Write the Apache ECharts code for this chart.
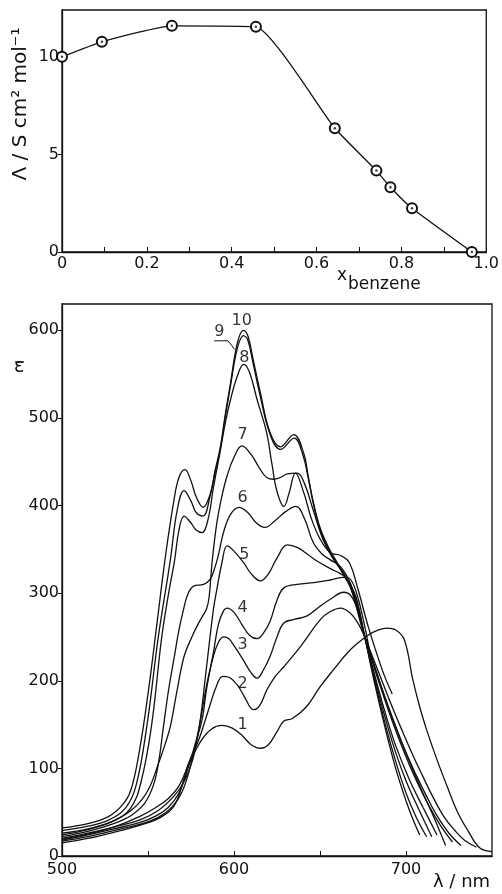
<!DOCTYPE html>
<html>
<head>
<meta charset="utf-8">
<script src="https://cdn.jsdelivr.net/npm/echarts@6/dist/echarts.min.js"></script>
<style>
  html, body { margin: 0; padding: 0; background: #fff; }
  #main { width: 502px; height: 894px; }
</style>
</head>
<body>
<div id="main"></div>
<script>
// 上图：电导率 vs 苯摩尔分数
const xBenzene = [0, 0.094, 0.259, 0.457, 0.643, 0.741, 0.774, 0.825, 0.966];
const conductivity = [10.0, 10.77, 11.59, 11.54, 6.34, 4.17, 3.32, 2.24, 0];

// 下图：吸收光谱 1-10
const wl1 = [500, 515, 530, 545, 555, 562, 568, 574, 581, 587, 593, 599, 605, 610, 615.3, 620, 625, 629, 634, 642, 650, 658, 666, 672, 678, 684, 689, 694, 699, 704, 708, 712, 718, 724, 730, 736, 743, 750];
const eps1 = [19, 25, 33, 45, 56, 66, 80, 106, 132, 145, 149, 146, 137, 127, 123, 127, 142, 154, 157, 170, 193, 213, 232, 243, 252, 258, 260, 258, 247, 201, 170, 144, 110, 79, 50, 29, 9, 5];

const wl2 = [500, 515, 530, 545, 558, 566, 573.6, 579.4, 585.2, 590, 593.5, 597, 602, 606, 611.4, 615, 619.2, 624, 629, 638.6, 650.3, 656, 662, 667.7, 672, 676, 681, 686, 692, 698, 704, 710, 716, 722, 728, 734, 741];
const eps2 = [15, 20, 27, 35, 45, 60, 106, 132, 167, 195, 205, 204, 195, 182, 167, 172, 190, 205, 216, 239, 270, 279, 283, 277, 266, 250, 225, 200, 170, 142, 115, 90, 66, 45, 30, 18, 10];

const wl3 = [500, 515, 530, 545, 556, 564, 570, 575, 580, 584.3, 588, 591, 594, 597, 600, 605, 610, 613.4, 617, 621, 625, 629, 635, 642.5, 650, 656, 663.8, 668, 672, 676, 682, 688, 694, 700, 706, 712, 718, 725, 732];
const eps3 = [17, 22, 29, 36, 44, 56, 74, 105, 150, 197, 228, 244, 250, 248, 240, 225, 209, 203, 212, 228, 250, 266, 270, 274, 285, 293, 301, 297, 280, 252, 215, 180, 148, 118, 92, 68, 46, 26, 12];

const wl4 = [500, 515, 530, 545, 555, 562, 568, 573.6, 577, 581.4, 584, 588, 591, 594, 596, 600, 605, 609, 613.4, 617, 621, 625, 629, 636.7, 646.4, 656, 664, 668, 672, 676, 680, 684, 690, 696, 702, 708, 714, 720, 727];
const eps4 = [18, 24, 31, 38, 46, 56, 72, 102, 125, 155, 190, 232, 265, 280, 283, 278, 263, 252, 248, 254, 268, 292, 306, 310, 312, 315, 318, 315, 295, 262, 225, 200, 165, 133, 104, 78, 55, 35, 16];

const wl5 = [500, 515, 530, 545, 556, 565, 571, 576, 580, 584, 588, 590, 593, 596, 600, 605.5, 610, 615.3, 620, 625, 631, 637, 643, 648, 656, 662, 666, 670, 674, 678, 684, 690, 696, 702, 708, 716, 723];
const eps5 = [20, 26, 33, 41, 52, 68, 85, 110, 150, 215, 281, 304, 335, 354, 348, 335, 322, 314, 322, 340, 355, 352, 344, 337, 328, 322, 315, 292, 263, 238, 203, 168, 137, 108, 80, 45, 12];

const wl6 = [500, 515, 530, 540, 548, 553, 556, 559, 562, 565, 568, 570.6, 573, 576.5, 582.3, 586.2, 589, 591, 594, 598, 603, 608, 613, 618, 624, 630, 636, 641, 646, 651, 656, 662, 668, 672, 676, 682, 688, 694, 702, 710, 718];
const eps6 = [22, 28, 37, 46, 60, 80, 105, 148, 190, 224, 258, 281, 298, 308, 310, 316, 330, 344, 370, 390, 398, 392, 380, 375, 383, 393, 399, 385, 358, 345, 338, 330, 310, 282, 250, 205, 163, 126, 87, 55, 24];

const wl7 = [500, 515, 530, 542, 550, 556, 560, 563, 567, 571, 575.5, 580, 584, 585.5, 587.2, 590, 593, 596, 600, 604.6, 610, 615, 619, 623, 627, 631, 636.7, 641, 646, 652, 658, 664, 670, 676, 682, 688, 694, 700, 707, 715];
const eps7 = [24, 30, 40, 55, 75, 105, 128, 148, 190, 228, 250, 268, 282, 295, 334, 380, 411, 434, 455, 468, 458, 442, 432, 430, 432, 436, 437, 425, 395, 360, 338, 322, 295, 250, 202, 157, 118, 86, 55, 22];

const wl8 = [500, 515, 530, 540, 546, 552, 558, 562, 565.5, 568, 571, 575, 578, 581.5, 585, 588, 592, 595, 598, 602, 605.6, 609, 613.4, 619, 622, 625, 629, 632, 635.7, 640.5, 645, 650, 656, 662, 667, 672, 678, 684, 688, 692];
const eps8 = [26, 31, 40, 55, 85, 148, 250, 300, 338, 372, 388, 380, 372, 369, 385, 420, 462, 495, 521, 548, 561, 552, 521, 483, 448, 416, 399, 414, 437, 415, 385, 362, 346, 343, 335, 305, 262, 225, 203, 185];

const wl9 = [500, 515, 527, 537, 543, 549.3, 556, 563, 567, 571, 575, 578, 582, 586, 589, 592, 595, 598, 602, 605.5, 608, 611, 615, 621, 627, 635, 640, 643, 646, 650, 655, 660, 666, 671, 676, 682, 688, 694, 700, 706, 712];
const eps9 = [29, 34, 41, 55, 80, 148, 250, 338, 395, 417, 405, 392, 388, 410, 437, 464, 502, 537, 580, 594, 589, 563, 527, 481, 464, 477, 458, 433, 403, 373, 350, 333, 313, 293, 250, 198, 150, 108, 72, 44, 22];

const wl10 = [500, 515, 527, 535, 540, 545, 550, 555, 560, 565, 568, 571.5, 575, 578, 582, 586, 589, 592, 595, 598, 602, 605.5, 608, 611, 615.3, 621, 627, 634.7, 640.5, 643, 646, 650, 655, 660, 666, 671, 676, 682, 688, 694, 700, 704, 708];
const eps10 = [32, 37, 45, 58, 75, 120, 185, 262, 340, 405, 432, 441, 428, 410, 398, 412, 440, 466, 505, 540, 586, 600, 594, 568, 529, 483, 467, 481, 460, 435, 405, 375, 352, 335, 315, 295, 250, 195, 145, 100, 63, 42, 24];

// 曲线编号标注
const curveNames = ['1', '2', '3', '4', '5', '6', '7', '8', '9', '10'];
const nameWl = [605, 605, 605, 605, 606, 605, 605, 606, 591.5, 604.5];
const nameEps = [150, 197, 241, 283, 344, 409, 481, 569, 598, 611];
// 9号的引线
const leader9Wl = [588.5, 596.5, 600.5];
const leader9Eps = [588, 588, 578];

const chart = echarts.init(document.getElementById('main'));

const INK = '#111';
const FONT = 'DejaVu Sans';

const spectra = [
    [wl1, eps1], [wl2, eps2], [wl3, eps3], [wl4, eps4], [wl5, eps5],
    [wl6, eps6], [wl7, eps7], [wl8, eps8], [wl9, eps9], [wl10, eps10]
];

let series = [];

// 上图曲线 + 圆圈
let topPoints = xBenzene.map(function (x, i) { return [x, conductivity[i]]; });
series.push({
    type: 'line',
    xAxisIndex: 0,
    yAxisIndex: 0,
    data: topPoints,
    smooth: 0.15,
    smoothMonotone: 'none',
    symbol: 'emptyCircle',
    symbolSize: 10,
    showSymbol: true,
    lineStyle: { color: INK, width: 1.3 },
    itemStyle: { color: INK, borderColor: INK, borderWidth: 1.2 },
    z: 3
});
series.push({
    type: 'scatter',
    xAxisIndex: 0,
    yAxisIndex: 0,
    data: topPoints,
    symbolSize: 2.5,
    itemStyle: { color: INK },
    z: 4
});

// 下图光谱
spectra.forEach(function (c) {
    series.push({
        type: 'line',
        xAxisIndex: 1,
        yAxisIndex: 1,
        data: c[0].map(function (w, i) { return [w, c[1][i]]; }),
        smooth: 0.4,
        symbol: 'none',
        lineStyle: { color: INK, width: 1.3 }
    });
});

// 编号文字
series.push({
    type: 'scatter',
    xAxisIndex: 1,
    yAxisIndex: 1,
    data: nameWl.map(function (w, i) { return [w, nameEps[i]]; }),
    symbolSize: 0,
    label: {
        show: true,
        position: 'inside',
        formatter: function (p) { return curveNames[p.dataIndex]; },
        fontFamily: FONT,
        fontSize: 16,
        color: '#000',
        textBorderWidth: 0
    },
    z: 5
});
series.push({
    type: 'line',
    xAxisIndex: 1,
    yAxisIndex: 1,
    data: leader9Wl.map(function (w, i) { return [w, leader9Eps[i]]; }),
    symbol: 'none',
    lineStyle: { color: INK, width: 1 }
});

let axisCommon = {
    axisLine: { show: true, lineStyle: { color: INK, width: 1.3 } },
    splitLine: { show: false },
    axisLabel: { color: INK, fontFamily: FONT, fontSize: 16 }
};

let option = {
    animation: false,
    grid: [
        { left: 62, top: 10, width: 430, height: 242, show: true, borderColor: INK, borderWidth: 1.3 },
        { left: 62, top: 304, width: 430, height: 552, show: true, borderColor: INK, borderWidth: 1.3 }
    ],
    xAxis: [
        Object.assign({}, axisCommon, {
            type: 'value', gridIndex: 0, min: 0, max: 1, interval: 0.1,
            axisTick: { show: true, inside: true, length: 5, lineStyle: { color: INK } },
            axisLabel: Object.assign({}, axisCommon.axisLabel, {
                margin: 4,
                formatter: function (v) {
                    let k = Math.round(v * 10);
                    if (k % 2 !== 0) return '';
                    if (k === 0) return '0';
                    return (k / 10).toFixed(1);
                }
            })
        }),
        Object.assign({}, axisCommon, {
            type: 'value', gridIndex: 1, min: 500, max: 750, interval: 50,
            axisTick: { show: true, inside: true, length: 5, lineStyle: { color: INK } },
            axisLabel: Object.assign({}, axisCommon.axisLabel, {
                margin: 6,
                showMaxLabel: false,
                formatter: function (v) { return v % 100 === 0 ? String(v) : ''; }
            })
        })
    ],
    yAxis: [
        Object.assign({}, axisCommon, {
            type: 'value', gridIndex: 0, min: 0, max: 12.4, interval: 5,
            axisTick: { show: true, inside: false, length: 4, lineStyle: { color: INK } },
            axisLabel: Object.assign({}, axisCommon.axisLabel, {
                margin: 3,
                showMaxLabel: false,
                formatter: function (v) { return v % 5 === 0 ? String(v) : ''; }
            })
        }),
        Object.assign({}, axisCommon, {
            type: 'value', gridIndex: 1, min: 0, max: 630, interval: 100,
            axisTick: { show: true, inside: false, length: 4, lineStyle: { color: INK } },
            axisLabel: Object.assign({}, axisCommon.axisLabel, {
                margin: 3,
                showMaxLabel: false,
                formatter: function (v) { return v % 100 === 0 ? String(v) : ''; }
            })
        })
    ],
    graphic: [
        {
            type: 'text', x: 11, y: 104, rotation: Math.PI / 2,
            style: {
                text: 'Λ / S cm² mol⁻¹', fill: INK, font: '20px "DejaVu Sans"',
                textAlign: 'center', textVerticalAlign: 'top'
            }
        },
        { type: 'text', x: 337, y: 267, style: { text: 'x', fill: INK, font: '17px "DejaVu Sans"' } },
        { type: 'text', x: 348, y: 276, style: { text: 'benzene', fill: INK, font: '17px "DejaVu Sans"' } },
        { type: 'text', x: 14, y: 358, style: { text: 'ε', fill: INK, font: '19px "DejaVu Sans"' } },
        { type: 'line', shape: { x1: 15, y1: 362, x2: 24, y2: 362 }, style: { stroke: INK, lineWidth: 1.3 } },
        { type: 'text', x: 433, y: 873, style: { text: 'λ / nm', fill: INK, font: '18px "DejaVu Sans"' } }
    ],
    series: series
};

chart.setOption(option);
</script>
</body>
</html>
